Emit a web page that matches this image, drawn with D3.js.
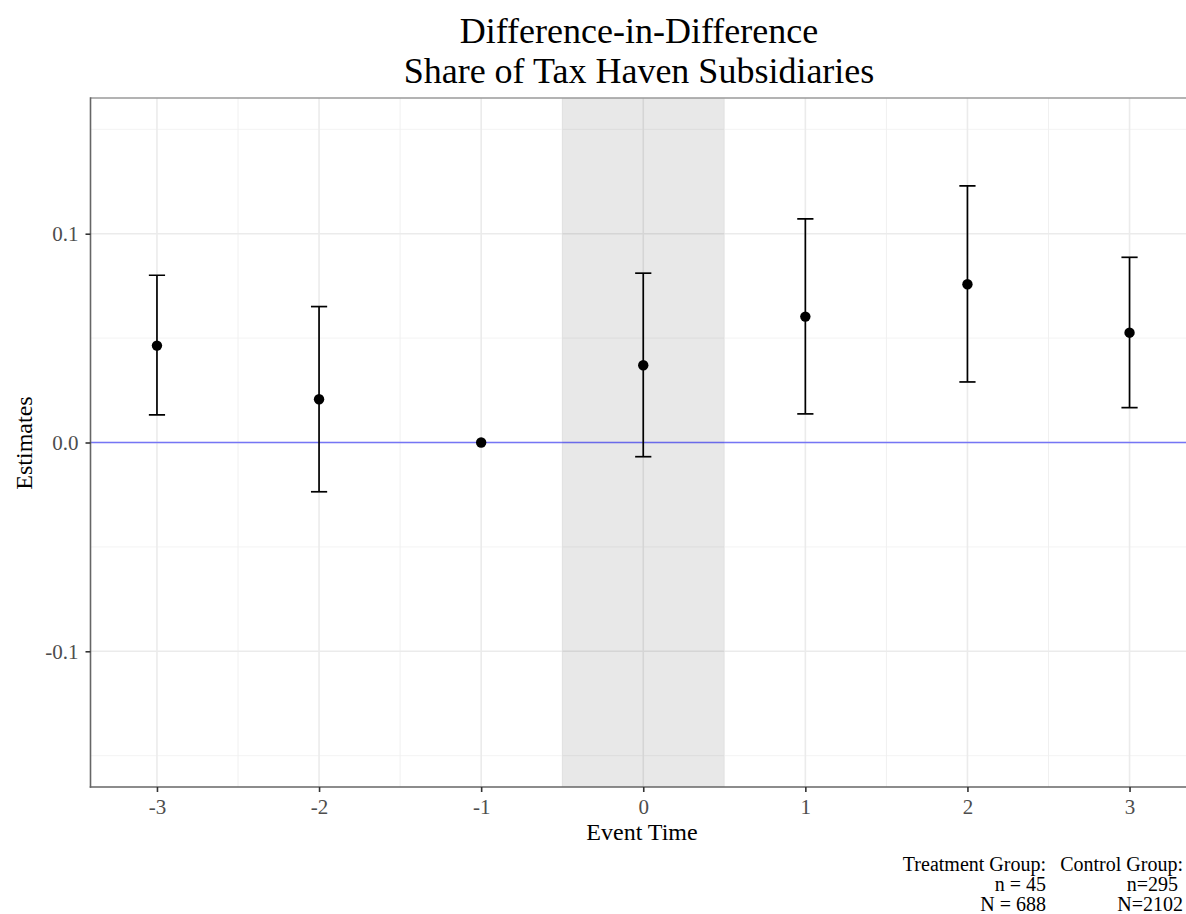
<!DOCTYPE html>
<html>
<head>
<meta charset="utf-8">
<script src="https://cdn.jsdelivr.net/npm/d3@7"></script>
<style>
  body { margin: 0; background: #fff; }
  text { font-family: "Liberation Serif", "Times New Roman", serif; }
</style>
</head>
<body>
<script>
// event time, point estimates and 95% CI bounds
const eventTime = [-3, -2, -1, 0, 1, 2, 3];
const estimates = [0.0464, 0.0207, 0, 0.037, 0.0603, 0.0758, 0.0526];
const lowerCI   = [0.0132, -0.0236, 0, -0.0068, 0.0137, 0.029, 0.0167];
const upperCI   = [0.0801, 0.0651, 0, 0.0811, 0.1071, 0.1229, 0.0887];

const yTicks = [-0.1, 0.0, 0.1];
const yMinor = [-0.15, -0.05, 0.05, 0.15];
const xMinor = [-2.5, -1.5, -0.5, 0.5, 1.5, 2.5];
const shadeRange = [-0.5, 0.5];

const titleLines = ["Difference-in-Difference", "Share of Tax Haven Subsidiaries"];
const captionTreat = ["Treatment Group:", "n = 45", "N = 688"];
const captionCtrl = ["Control Group:", "n=295\u00a0", "N=2102"];

var width = 1186,
    height = 914;

const svg = d3.select("body").append("svg")
              .attr("width", width)
              .attr("height", height);

const x = d3.scaleLinear().domain([-3.41, 3.41]).range([90.5, 1196]);
const y = d3.scaleLinear().domain([-0.165, 0.165]).range([787, 98]);

const panel = svg.append("g");

panel.append("clipPath").attr("id", "clip")
  .append("rect").attr("x", 90.5).attr("y", 98).attr("width", width - 90.5).attr("height", 689);

const inner = panel.append("g").attr("clip-path", "url(#clip)");

// grid lines
inner.selectAll(".minor-y").data(yMinor).enter().append("line")
  .attr("x1", 90.5).attr("x2", width)
  .attr("y1", d => y(d)).attr("y2", d => y(d))
  .attr("stroke", "#f3f3f3").attr("stroke-width", 1);

inner.selectAll(".minor-x").data(xMinor).enter().append("line")
  .attr("y1", 98).attr("y2", 787)
  .attr("x1", d => x(d)).attr("x2", d => x(d))
  .attr("stroke", "#f0f0f0").attr("stroke-width", 1);

inner.selectAll(".major-y").data(yTicks).enter().append("line")
  .attr("x1", 90.5).attr("x2", width)
  .attr("y1", d => y(d)).attr("y2", d => y(d))
  .attr("stroke", "#ebebeb").attr("stroke-width", 1.6);

inner.selectAll(".major-x").data(eventTime).enter().append("line")
  .attr("y1", 98).attr("y2", 787)
  .attr("x1", d => x(d)).attr("x2", d => x(d))
  .attr("stroke", "#ebebeb").attr("stroke-width", 1.6);

// treatment period shading
inner.append("rect")
  .attr("x", x(shadeRange[0]))
  .attr("width", x(shadeRange[1]) - x(shadeRange[0]))
  .attr("y", 98).attr("height", 689)
  .attr("fill", "#000").attr("fill-opacity", 0.09);

// zero line
inner.append("line")
  .attr("x1", 90.5).attr("x2", width)
  .attr("y1", y(0)).attr("y2", y(0))
  .attr("stroke", "#0000ff").attr("stroke-opacity", 0.5).attr("stroke-width", 1.6);

// error bars
const capHalf = x(0.05) - x(0);
const bars = inner.selectAll(".bar").data(eventTime).enter().append("g");

bars.filter(function(d, i) { return upperCI[i] !== lowerCI[i]; })
  .each(function(d) {
    var i = eventTime.indexOf(d);
    var g = d3.select(this);
    g.append("line")
      .attr("x1", x(d)).attr("x2", x(d))
      .attr("y1", y(lowerCI[i])).attr("y2", y(upperCI[i]));
    [lowerCI[i], upperCI[i]].forEach(function(v) {
      g.append("line")
        .attr("x1", x(d) - capHalf).attr("x2", x(d) + capHalf)
        .attr("y1", y(v)).attr("y2", y(v));
    });
  })
  .attr("stroke", "#000").attr("stroke-width", 1.7);

inner.selectAll(".pt").data(eventTime).enter().append("circle")
  .attr("cx", d => x(d))
  .attr("cy", (d, i) => y(estimates[i]))
  .attr("r", 5.2)
  .attr("fill", "#000");

// panel border
panel.append("line").attr("x1", 90.5).attr("x2", width).attr("y1", 98).attr("y2", 98)
  .attr("stroke", "#9a9a9a").attr("stroke-width", 1.6);
panel.append("line").attr("x1", 90.5).attr("x2", 90.5).attr("y1", 97.2).attr("y2", 787.8)
  .attr("stroke", "#666").attr("stroke-width", 1.6);
panel.append("line").attr("x1", 89.7).attr("x2", width).attr("y1", 787).attr("y2", 787)
  .attr("stroke", "#666").attr("stroke-width", 1.6);

// axes
const xAxis = svg.append("g")
  .attr("transform", "translate(0,787)")
  .call(d3.axisBottom(x).tickValues(eventTime).tickSize(5).tickPadding(7));
xAxis.select(".domain").remove();
xAxis.selectAll("line").attr("stroke", "#333").attr("stroke-width", 1.6);
xAxis.selectAll("text").attr("fill", "#4d4d4d").style("font-size", "21px")
  .style("font-family", "Liberation Serif, serif")
  .text(function(d) { return String(d); });

const yAxis = svg.append("g")
  .attr("transform", "translate(90.5,0)")
  .call(d3.axisLeft(y).tickValues(yTicks).tickSize(5).tickPadding(7));
yAxis.select(".domain").remove();
yAxis.selectAll("line").attr("stroke", "#333").attr("stroke-width", 1.6);
yAxis.selectAll("text").attr("fill", "#4d4d4d").style("font-size", "21px")
  .style("font-family", "Liberation Serif, serif")
  .text(function(d) { return d3.format(".1f")(d).replace("−", "-"); });

// titles
svg.append("text")
  .attr("text-anchor", "middle")
  .style("font-size", "36px")
  .selectAll("tspan").data(titleLines).enter().append("tspan")
  .attr("x", 639).attr("y", (d, i) => 43 + i * 39.5)
  .text(d => d);

svg.append("text")
  .attr("x", 642).attr("y", 840)
  .attr("text-anchor", "middle")
  .style("font-size", "24px")
  .text("Event Time");

svg.append("text")
  .attr("transform", "translate(32,443) rotate(-90)")
  .attr("text-anchor", "middle")
  .style("font-size", "24px")
  .text("Estimates");

// caption
const capG = svg.append("g").style("font-size", "20px");
capG.selectAll(".t").data(captionTreat).enter().append("text")
  .attr("x", 1046).attr("y", (d, i) => 871 + i * 20)
  .attr("text-anchor", "end")
  .text(d => d);
capG.selectAll(".c").data(captionCtrl).enter().append("text")
  .attr("x", 1183).attr("y", (d, i) => 871 + i * 20)
  .attr("text-anchor", "end")
  .text(d => d);
</script>
</body>
</html>
